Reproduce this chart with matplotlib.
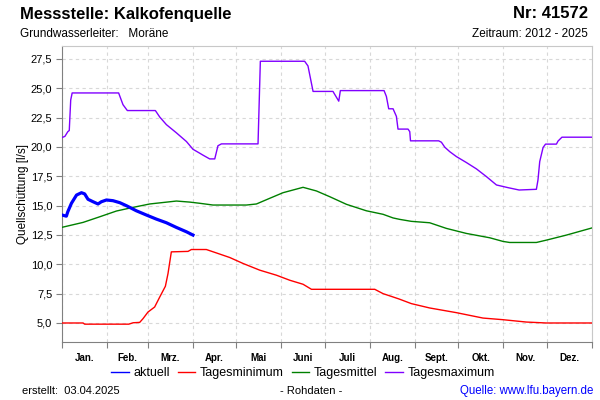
import numpy as np
import matplotlib
matplotlib.use("Agg")
import matplotlib.pyplot as plt
from matplotlib.ticker import FixedLocator, NullFormatter

plt.rcParams['font.family'] = ['Liberation Sans', 'DejaVu Sans']

# day of year (0 = 1 Jan) and discharge in l/s
akt_days = [0, 3, 4, 6.5, 10, 13.4, 15.6, 17.9, 21.4, 24.8, 27.1, 30.6, 35.1, 39.8,
            44.4, 51.2, 58.1, 65, 71.9, 78.8, 85.7, 90.2]
akt_vals = [14.2, 14.1, 14.48, 15.2, 15.9, 16.1, 16.0, 15.54, 15.33, 15.14, 15.33, 15.48,
            15.42, 15.25, 14.99, 14.56, 14.2, 13.85, 13.54, 13.14, 12.77, 12.49]

min_days = [0, 14.5, 15.6, 46, 49, 53.5, 55.8, 59.2, 63.8, 67.3, 71.2, 73, 75.3, 86.8,
            89.1, 99.4, 106.3, 115.5, 124.7, 136.2, 147.7, 156.9, 166, 171.8, 215.4,
            221.1, 226, 232, 240.6, 253.2, 271.6, 289.9, 303.7, 319.8, 333.6, 365]
min_vals = [5.0, 5.0, 4.9, 4.9, 5.02, 5.05, 5.37, 5.93, 6.36, 7.21, 8.13, 9.21, 11.06, 11.1,
            11.26, 11.26, 10.97, 10.58, 10.07, 9.5, 9.07, 8.64, 8.3, 7.87, 7.87,
            7.5, 7.3, 7.05, 6.65, 6.28, 5.88, 5.42, 5.28, 5.08, 5.0, 5.0]

mit_days = [0, 14.5, 26, 37.5, 48.9, 60.4, 78.8, 88, 94.8, 104, 127, 133.9, 143, 152.2,
            166, 175.2, 184.4, 195.9, 209.6, 221.1, 228, 232.5, 240.6, 253.2, 264.7,
            278.5, 294.6, 303.7, 308.3, 326.7, 333.6, 347.4, 365]
mit_vals = [13.15, 13.57, 14.05, 14.54, 14.85, 15.14, 15.39, 15.3, 15.2, 15.05, 15.05, 15.14,
            15.62, 16.1, 16.56, 16.25, 15.76, 15.11, 14.56, 14.26, 13.95, 13.83, 13.66,
            13.54, 13.06, 12.63, 12.26, 11.95, 11.86, 11.86, 12.06, 12.49, 13.1]

max_days = [0, 2, 4, 5, 6, 7, 39, 42, 45, 64.3, 67.3, 71.9, 78.8, 85.7, 90.2, 94.8, 97.1,
            101.7, 105.2, 107.4, 109.8, 135, 136.6, 167.1, 169.4, 172.9, 186.6, 190.6,
            191.7, 221.8, 223.4, 225, 228, 230.3, 231.4, 238.3, 239.5, 240, 259.4, 261.3,
            263.6, 267, 271.6, 278.5, 285.4, 292.3, 299.2, 307.2, 314.8, 326.7, 327.8,
            329, 331.3, 333, 340.5, 341.6, 344.3, 365]
max_vals = [20.8, 20.9, 21.3, 21.4, 24.0, 24.6, 24.6, 23.6, 23.1, 23.1, 22.55, 21.9, 21.2,
            20.46, 19.8, 19.47, 19.3, 18.98, 18.98, 20.1, 20.26, 20.26, 27.3, 27.3, 26.9,
            24.73, 24.73, 23.9, 24.8, 24.8, 24.3, 23.25, 23.25, 22.6, 21.52, 21.52, 21.3,
            20.52, 20.52, 20.4, 19.98, 19.6, 19.18, 18.67, 18.13, 17.47, 16.76, 16.53,
            16.33, 16.39, 17.19, 18.75, 19.95, 20.24, 20.24, 20.5, 20.83, 20.83]

month_starts = [0, 31, 59, 90, 120, 151, 181, 212, 243, 273, 304, 334, 365]
month_names = ['Jan.', 'Feb.', 'Mrz.', 'Apr.', 'Mai', 'Juni', 'Juli', 'Aug.', 'Sept.',
               'Okt.', 'Nov.', 'Dez.']
y_ticks = [5.0, 7.5, 10.0, 12.5, 15.0, 17.5, 20.0, 22.5, 25.0, 27.5]

fig = plt.figure(figsize=(6, 4), dpi=100)
ax = fig.add_axes([62 / 600, 1 - 342 / 400, 530 / 600, 296 / 400])

ax.plot(min_days, min_vals, color='#ff0000', lw=1.0, label='Tagesminimum', zorder=3)
ax.plot(mit_days, mit_vals, color='#008000', lw=1.0, label='Tagesmittel', zorder=3)
ax.plot(max_days, max_vals, color='#8000ff', lw=1.0, label='Tagesmaximum', zorder=3)
ax.plot(akt_days, akt_vals, color='#0000ff', lw=2.3, label='aktuell', zorder=4)

ax.set_xlim(0, 365)
ax.set_ylim(3.38, 28.6)

ax.xaxis.set_major_locator(FixedLocator(month_starts))
ax.xaxis.set_major_formatter(NullFormatter())
mids = [(a + b) / 2 for a, b in zip(month_starts[:-1], month_starts[1:])]
ax.xaxis.set_minor_locator(FixedLocator(mids))
ax.set_xticklabels(month_names, minor=True, fontsize=7, fontweight='bold')
ax.tick_params(axis='x', which='minor', length=0, pad=8)
ax.tick_params(axis='x', which='major', length=4, color='#808080')

ax.set_yticks(y_ticks)
ax.set_yticklabels([f'{v:.1f}'.replace('.', ',') for v in y_ticks], fontsize=8)
ax.tick_params(axis='y', length=4, color='#808080', pad=3)

ax.grid(True, which='major', color='#d8d8d8', lw=0.8, linestyle=(0, (3, 3)))
for s in ['left', 'bottom']:
    ax.spines[s].set_color('#808080')
for s in ['top', 'right']:
    ax.spines[s].set_color('#c8c8c8')

ax.set_ylabel('Quellschüttung [l/s]', fontsize=8.5, labelpad=1)

handles, labels = ax.get_legend_handles_labels()
order = [3, 0, 1, 2]
fig.legend([handles[i] for i in order], [labels[i] for i in order], ncol=4,
           loc='center', bbox_to_anchor=(303 / 600, 1 - 373 / 400), frameon=False,
           fontsize=9, handlelength=1.4, handletextpad=0.4, columnspacing=0.6)
for line in fig.legends[0].get_lines():
    line.set_linewidth(1.0)

fig.text(20 / 600, 1 - 14 / 400, 'Messstelle: Kalkofenquelle', fontsize=12,
         fontweight='bold', va='center', ha='left')
fig.text(588 / 600, 1 - 14 / 400, 'Nr: 41572', fontsize=12, fontweight='bold',
         va='center', ha='right')
fig.text(20 / 600, 1 - 34 / 400, 'Grundwasserleiter:   Moräne', fontsize=8.5,
         va='center', ha='left')
fig.text(588 / 600, 1 - 34 / 400, 'Zeitraum: 2012 - 2025', fontsize=8.5,
         va='center', ha='right')

fig.text(22 / 600, 1 - 391 / 400, 'erstellt:  03.04.2025', fontsize=8, va='center')
fig.text(311 / 600, 1 - 391 / 400, '- Rohdaten -', fontsize=8, va='center', ha='center')
fig.text(593 / 600, 1 - 391 / 400, 'Quelle: www.lfu.bayern.de', fontsize=8.3, va='center',
         ha='right', color='#0000ff')

fig.savefig('out.png', dpi=100)
